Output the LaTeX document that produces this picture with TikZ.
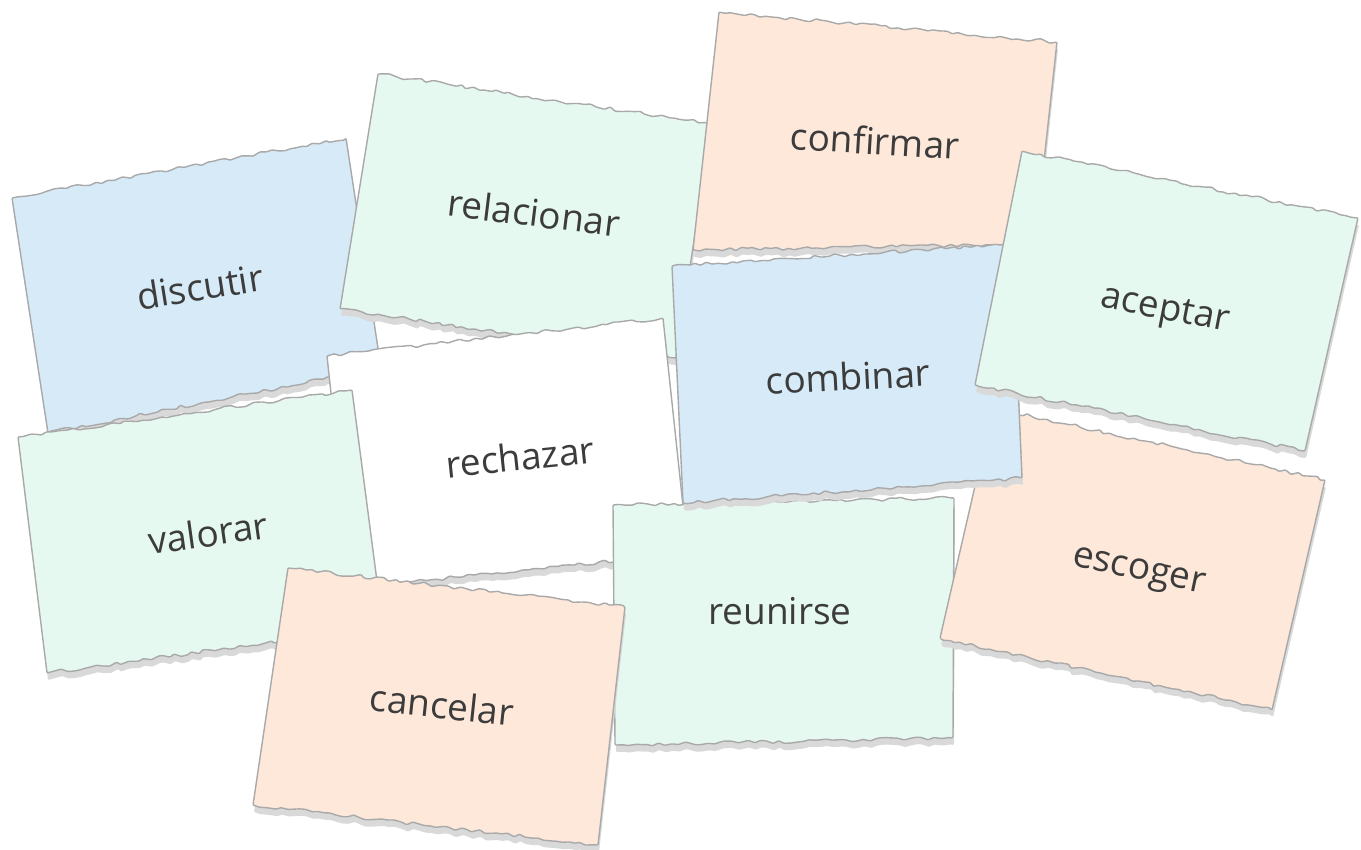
\documentclass[tikz,border=0pt]{standalone}
\usepackage{fontspec}
\setmainfont{Open Sans}
\usetikzlibrary{decorations.pathmorphing}
\definecolor{cardblue}{HTML}{D6EAF7}
\definecolor{cardgreen}{HTML}{E6F9F1}
\definecolor{cardpeach}{HTML}{FDE8DA}
\definecolor{cardwhite}{HTML}{FFFFFF}
\definecolor{edgec}{HTML}{A9A9A9}
\definecolor{shadowc}{HTML}{D9D9D9}
\definecolor{wordc}{HTML}{3C3C3C}
\tikzset{
  torn/.style={decoration={random steps, segment length=6pt, amplitude=1.9pt}, rounded corners=1pt},
  cardedge/.style={draw=edgec, line width=1.4pt, line join=round},
  word/.style={text=wordc, font=\fontsize{37}{44}\selectfont, inner sep=0pt, text height=27pt, text depth=0pt, anchor=center}
}
% #1 seed, #2 fill, #3 TL, #4 TR, #5 BR, #6 BL, #7 word, #8 text position, #9 rotation
\newcommand\papercard[9]{%
  \pgfmathsetseed{#1}%
  \fill[shadowc, torn, shift={(1,7)}] (#3) decorate{-- (#4)} -- (#5) decorate{-- (#6)} -- cycle;
  \pgfmathsetseed{#1}%
  \filldraw[fill=#2, cardedge, torn] (#3) decorate{-- (#4)} -- (#5) decorate{-- (#6)} -- cycle;
  \node[word, rotate=#9] (#7) at (#8) {#7};
}
\begin{document}
\begin{tikzpicture}[x=1pt, y=-1pt]
\fill[white] (0,0) rectangle (1361,850);
\useasboundingbox (0,0) rectangle (1361,850);
\papercard{11}{cardblue}{12,198}{346,138}{381,368}{48,433}{discutir}{200,287}{9}
\papercard{12}{cardgreen}{378,74}{712,124}{676,358}{340,309}{relacionar}{534,213}{-7}
\papercard{13}{cardpeach}{719,12}{1057,42}{1035,244}{693,250}{confirmar}{875,141}{-3.5}
\papercard{14}{cardwhite}{327,356}{663,318}{688,553}{352,588}{rechazar}{520,457}{6}
\papercard{15}{cardgreen}{18,437}{352,390}{383,627}{47,673}{valorar}{208,533}{8}
\papercard{16}{cardgreen}{613,505}{954,498}{953,738}{615,745}{reunirse}{780,611}{0}
\papercard{17}{cardpeach}{993,408}{1325,480}{1272,710}{940,638}{escoger}{1140,566}{-12}
\papercard{18}{cardblue}{672,266}{1012,244}{1022,478}{683,503}{combinar}{848,377}{3}
\papercard{19}{cardgreen}{1022,151}{1358,218}{1305,451}{975,385}{aceptar}{1166,306}{-11}
\papercard{20}{cardpeach}{288,568}{625,607}{598,845}{253,805}{cancelar}{442,705}{-6}
\end{tikzpicture}
\end{document}
